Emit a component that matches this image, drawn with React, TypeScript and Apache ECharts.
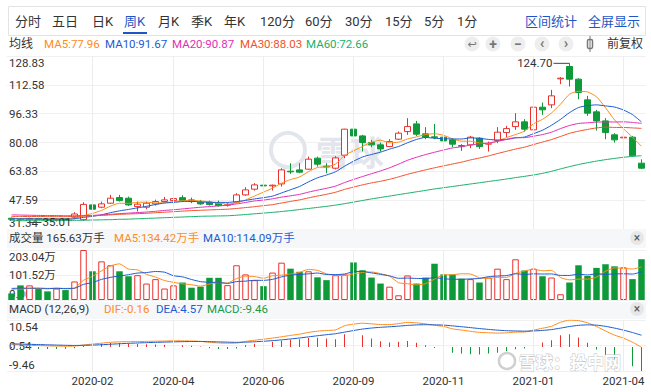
import React, { useEffect, useRef } from 'react';
import * as echarts from 'echarts';

// ---------- data ----------
const tickIdx = [9, 18, 28, 38, 48, 58, 68];
const tickText = ['2020-02', '2020-04', '2020-06', '2020-09', '2020-11', '2021-01', '2021-04'];

// [open, close, low, high]
const candles: number[][] = [
  [37.4, 36.8, 36.2, 37.8], [37.0, 36.6, 36.0, 37.5], [36.6, 37.3, 35.01, 37.7], [37.3, 36.9, 36.4, 37.6], [36.9, 36.5, 35.9, 37.2],
  [36.5, 37.0, 35.6, 37.3], [37.0, 36.6, 36.1, 37.4], [38.0, 39.8, 36.9, 40.8], [36.6, 45.2, 35.9, 46.4], [44.93, 42.5, 42.1, 46.22],
  [43.63, 45.49, 43.06, 46.8], [45.88, 48.7, 45.49, 50.56], [49.04, 47.35, 46.8, 50.56], [48.7, 44.93, 44.36, 49.6], [43.97, 45.32, 41.15, 46.8],
  [43.63, 45.88, 42.5, 46.8], [45.49, 46.8, 44.53, 47.9], [46.8, 47.74, 46.45, 49.43], [47.35, 48.48, 46.8, 49.6], [49.0, 47.35, 46.8, 50.4],
  [47.74, 46.8, 45.88, 49.04], [46.45, 45.49, 44.93, 47.74], [46.45, 45.1, 44.53, 47.35], [45.88, 44.53, 43.97, 47.35], [44.76, 44.93, 43.97, 46.22],
  [46.45, 50.56, 45.88, 51.52], [50.56, 53.38, 50.0, 54.9], [53.78, 56.2, 52.99, 57.16], [56.03, 55.64, 53.78, 56.59], [55.64, 56.03, 52.99, 56.37],
  [56.76, 64.65, 55.24, 65.61], [63.92, 63.53, 62.4, 68.43], [64.65, 63.36, 62.79, 68.43], [65.05, 70.69, 64.65, 72.15], [71.25, 67.87, 66.51, 72.15],
  [66.74, 66.34, 62.79, 68.43], [65.6, 71.4, 64.9, 72.4], [72.94, 87.6, 71.25, 87.8], [87.6, 83.8, 80.6, 89.45], [83.8, 80.05, 74.97, 84.4],
  [80.05, 78.75, 77.45, 81.57], [78.75, 76.49, 74.97, 80.05], [77.79, 80.6, 77.5, 81.96], [81.96, 85.34, 81.57, 86.25], [86.25, 89.06, 84.4, 93.8],
  [90.58, 84.78, 83.8, 92.27], [84.95, 83.08, 81.96, 88.72], [83.26, 82.86, 81.96, 90.58], [83.08, 81.0, 80.6, 84.4], [81.57, 79.14, 77.45, 82.52],
  [78.35, 78.0, 75.36, 79.14], [78.75, 83.08, 76.89, 83.8], [82.52, 77.79, 76.49, 83.08], [79.14, 79.48, 74.97, 80.6], [81.17, 85.9, 79.7, 88.72],
  [85.68, 87.93, 83.08, 89.45], [89.06, 91.71, 87.2, 96.6], [91.71, 87.6, 86.25, 93.23], [87.2, 99.99, 85.68, 101.3], [99.99, 98.48, 95.66, 102.6],
  [101.3, 106.37, 99.44, 109.75], [115.95, 116.34, 112.96, 116.9], [122.9, 115.78, 111.6, 124.7], [115.78, 108.23, 104.5, 116.34], [104.12, 96.62, 95.1, 106.37],
  [97.35, 92.27, 86.81, 98.48], [92.27, 85.68, 81.96, 93.8], [84.4, 81.57, 80.05, 85.34], [82.7, 83.08, 79.7, 85.34], [83.08, 72.55, 72.15, 83.8],
  [68.43, 65.61, 65.05, 70.6],
];

const ma5 = [
  37.0, 36.9, 36.9, 36.9, 36.82, 36.86, 36.86, 37.26, 38.92, 40.12,
  41.82, 44.24, 45.85, 45.8, 46.36, 46.44, 46.06, 46.13, 46.84, 47.25,
  47.43, 47.17, 46.64, 45.85, 45.37, 46.12, 47.7, 49.92, 52.14, 54.36,
  57.18, 59.21, 60.64, 63.65, 66.02, 66.36, 67.93, 72.78, 75.4, 77.84,
  80.32, 81.34, 79.94, 80.25, 82.05, 83.25, 84.57, 85.02, 84.16, 82.17,
  80.82, 80.82, 79.8, 79.5, 80.85, 82.84, 84.56, 86.52, 90.63, 93.14,
  96.75, 101.68, 107.31, 108.96, 108.59, 105.85, 99.72, 92.87, 87.84, 83.03,
  77.96,
];
const ma10 = [
  37.2, 37.1, 37.1, 37.0, 36.9, 36.9, 36.9, 37.1, 37.9, 38.47,
  39.34, 40.55, 41.56, 42.36, 43.24, 44.13, 45.15, 45.99, 46.32, 46.81,
  46.94, 46.61, 46.39, 46.35, 46.31, 46.78, 47.44, 48.28, 49.0, 49.87,
  51.65, 53.46, 55.28, 57.9, 60.19, 61.77, 63.57, 66.71, 69.53, 71.93,
  73.34, 74.64, 76.36, 77.82, 79.94, 81.79, 82.96, 82.48, 82.2, 82.11,
  82.04, 82.69, 82.41, 81.83, 81.51, 81.83, 82.69, 83.16, 85.06, 87.0,
  89.79, 93.12, 96.92, 99.79, 100.87, 101.3, 100.7, 100.09, 98.4, 95.81,
  91.67,
];
const ma20 = [
  39.3, 39.2, 39.1, 39.0, 38.9, 38.9, 38.8, 38.8, 38.9, 39.0,
  39.3, 39.6, 40.0, 40.3, 40.6, 40.9, 41.3, 41.8, 42.2, 42.64,
  43.14, 43.58, 43.97, 44.35, 44.78, 45.45, 46.29, 47.14, 47.66, 48.34,
  49.29, 50.03, 50.84, 52.12, 53.25, 54.27, 55.5, 57.5, 59.26, 60.9,
  62.5, 64.05, 65.82, 67.86, 70.07, 71.78, 73.26, 74.6, 75.86, 77.02,
  77.69, 78.66, 79.39, 79.83, 80.73, 81.81, 82.82, 82.82, 83.63, 84.55,
  85.91, 87.91, 89.67, 90.81, 91.19, 91.56, 91.69, 91.63, 91.73, 91.4,
  90.87,
];
const ma30 = [
  38.4, 38.4, 38.4, 38.4, 38.3, 38.3, 38.3, 38.4, 38.6, 38.8,
  39.0, 39.3, 39.6, 39.8, 40.0, 40.2, 40.5, 40.8, 41.1, 41.4,
  41.7, 41.9, 42.1, 42.3, 42.5, 42.9, 43.4, 43.9, 44.5, 45.05,
  45.98, 46.87, 47.74, 48.87, 49.91, 50.89, 52.05, 53.66, 54.95, 56.2,
  57.31, 58.23, 59.34, 60.69, 62.15, 63.44, 64.65, 65.82, 66.91, 67.97,
  69.01, 70.26, 71.35, 72.52, 73.88, 75.13, 76.4, 77.45, 78.93, 80.35,
  81.72, 83.48, 85.23, 86.48, 87.44, 88.3, 88.78, 88.58, 88.56, 88.31,
  88.03,
];
const ma60 = [
  36.0, 36.0, 36.0, 36.0, 36.1, 36.1, 36.1, 36.2, 36.3, 36.4,
  36.5, 36.6, 36.8, 36.9, 37.1, 37.3, 37.5, 37.7, 37.9, 38.1,
  38.3, 38.5, 38.6, 38.7, 38.8, 39.1, 39.5, 39.9, 40.3, 40.7,
  41.2, 41.7, 42.3, 42.9, 43.5, 44.1, 44.8, 45.6, 46.5, 47.4,
  48.3, 49.1, 49.9, 50.7, 51.5, 52.3, 53.1, 53.9, 54.6, 55.3,
  56.0, 56.7, 57.4, 58.1, 58.8, 59.5, 60.3, 61.0, 61.8, 62.7,
  63.85, 65.18, 66.49, 67.67, 68.68, 69.6, 70.42, 71.12, 71.75, 72.25,
  72.66,
];

// volume, 万手
const volumes = [
  26.5, 59.4, 59.4, 44.5, 35.0, 46.6, 40.3, 75.3, 203.04, 116.6,
  156.9, 141.0, 116.6, 96.5, 100.7, 66.8, 84.8, 46.6, 59.4, 71.0,
  49.8, 54.1, 90.1, 90.1, 60.4, 141.0, 103.9, 80.6, 56.2, 111.3,
  151.6, 127.2, 114.5, 116.6, 92.2, 80.6, 100.7, 103.9, 152.6, 120.8,
  91.2, 66.8, 54.1, 19.1, 99.6, 66.8, 91.2, 147.3, 103.9, 103.9,
  86.9, 84.8, 71.0, 91.2, 127.2, 84.8, 165.4, 119.8, 127.2, 96.5,
  91.2, 23.3, 71.0, 141.0, 97.5, 130.4, 145.2, 136.7, 132.5, 84.8,
  165.63,
];
const volMa5 = [
  43, 45, 47, 47, 45.0, 49.0, 45.2, 48.3, 80.0, 96.4,
  118.4, 138.6, 146.8, 125.5, 122.3, 104.3, 93.1, 79.1, 71.7, 65.7,
  62.3, 56.2, 64.9, 71.0, 68.9, 87.1, 97.1, 95.2, 88.4, 98.6,
  100.7, 105.4, 112.2, 124.2, 120.4, 106.2, 100.9, 98.8, 106.0, 111.7,
  113.8, 107.1, 97.1, 70.4, 66.2, 61.3, 66.2, 84.8, 101.8, 102.6,
  106.6, 105.4, 90.1, 87.6, 92.2, 91.8, 107.9, 117.7, 124.9, 118.7,
  120.0, 91.6, 81.8, 84.6, 84.8, 92.6, 117.0, 130.2, 128.5, 125.9,
  134.42,
];
const volMa10 = [
  47, 48, 48, 48, 47, 47, 47, 47.7, 63.5, 70.7,
  83.7, 91.9, 97.6, 102.8, 109.4, 111.4, 115.8, 113.0, 98.6, 94.0,
  83.3, 74.6, 72.0, 71.3, 67.3, 74.7, 76.6, 80.0, 79.7, 83.8,
  93.9, 101.2, 103.7, 106.3, 109.5, 103.5, 103.2, 105.5, 115.1, 116.1,
  110.0, 104.0, 98.0, 88.2, 88.9, 87.6, 86.6, 90.95, 86.1, 84.4,
  84.0, 85.8, 87.5, 94.7, 97.4, 99.2, 106.6, 103.9, 106.2, 105.5,
  105.9, 99.8, 99.8, 104.7, 101.8, 106.3, 104.3, 106.0, 106.5, 105.4,
  114.09,
];

const macdHist = [
  -0.4, -0.7, -0.8, -0.8, -0.8, -0.8, -0.7, -0.5, 0.3, 0.8,
  1.2, 1.5, 1.5, 1.3, 1.1, 1.0, 0.9, 0.8, 0.8, 0.6,
  0.4, 0.1, -0.5, -0.8, -0.8, -0.6, 0.6, 1.2, 1.6, 2.0,
  2.4, 2.8, 3.0, 3.5, 3.6, 3.3, 3.0, 5.0, 5.0, 4.6,
  3.3, 2.2, 1.7, 2.0, 2.35, 1.6, 0.65, -0.4, -1.0, -2.35,
  -2.6, -2.9, -3.0, -2.6, -2.35, -1.7, -0.9, -0.65, 0.65, 1.7,
  2.6, 4.6, 5.0, 3.7, 1.6, -1.0, -3.7, -5.5, -6.3, -7.6,
  -9.46,
];
const dea = [
  1.2, 1.11, 1.01, 0.91, 0.81, 0.71, 0.62, 0.56, 0.6, 0.7,
  0.85, 1.04, 1.23, 1.39, 1.53, 1.66, 1.77, 1.87, 1.97, 2.05,
  2.1, 2.11, 2.05, 1.95, 1.85, 1.78, 1.85, 2.0, 2.2, 2.45,
  2.75, 3.1, 3.48, 3.92, 4.37, 4.78, 5.16, 5.78, 6.41, 6.98,
  7.39, 7.67, 7.88, 8.13, 8.42, 8.62, 8.7, 8.65, 8.53, 8.24,
  7.91, 7.55, 7.18, 6.85, 6.56, 6.35, 6.24, 6.16, 6.24, 6.45,
  6.78, 7.35, 7.98, 8.44, 8.64, 8.52, 8.06, 7.37, 6.58, 5.63,
  4.57,
];
const dif = [
  1.0, 0.76, 0.61, 0.51, 0.41, 0.31, 0.27, 0.31, 0.75, 1.1,
  1.45, 1.79, 1.98, 2.04, 2.08, 2.16, 2.22, 2.27, 2.37, 2.35,
  2.3, 2.16, 1.8, 1.55, 1.45, 1.48, 2.15, 2.6, 3.0, 3.45,
  3.95, 4.5, 4.98, 5.67, 6.17, 6.43, 6.66, 8.28, 8.91, 9.28,
  9.04, 8.77, 8.73, 9.13, 9.6, 9.42, 9.03, 8.45, 8.03, 7.07,
  6.61, 6.1, 5.68, 5.55, 5.39, 5.5, 5.79, 5.84, 6.57, 7.3,
  8.08, 9.65, 10.48, 10.29, 9.44, 8.02, 6.21, 4.62, 3.43, 1.83,
  -0.16,
];

const priceTicks = ['31.34', '47.59', '63.83', '80.08', '96.33', '112.58', '128.83'];
const volTicks = ['0.00', '101.52万', '203.04万'];
const macdTicks = ['-9.46', '0.54', '10.54'];
const highIdx = 62;
const lowIdx = 2;

const tabs = ['分时', '五日', '日K', '周K', '月K', '季K', '年K', '120分', '60分', '30分', '15分', '5分', '1分'];
const tabX = [15, 52, 92, 124, 158, 191, 224, 260, 305, 345, 385, 424, 457];

// ---------- styles ----------
const RED = '#e8322f';
const GREEN = '#0f9a3a';
const C5 = '#ff8c1a';
const C10 = '#1b5bd3';
const C20 = '#e22fb5';
const C30 = '#f2512c';
const C60 = '#18b06a';
const BLUE = '#1f56c6';
const FF = 'Roboto, "Noto Sans CJK SC", sans-serif';
const FS = 11.5;

function txt(text: string, x: number, y: number, fill: string, size = FS, extra: any = {}) {
  return {
    type: 'text',
    z: 60,
    style: {
      text, x, y, fill,
      font: `${extra.weight || 'normal'} ${size}px ${extra.family || FF}`,
      align: extra.align || 'left', textAlign: extra.align || 'left',
      verticalAlign: 'middle', textVerticalAlign: 'middle',
      stroke: extra.stroke, lineWidth: extra.lineWidth,
    },
    silent: true,
  };
}

export default function App() {
  const ref = useRef<HTMLDivElement>(null);
  useEffect(() => {
    if (!ref.current) return;
    const chart = echarts.init(ref.current, undefined, { renderer: 'svg' });
    const cats = candles.map((_, i) => {
      const k = tickIdx.indexOf(i);
      return k >= 0 ? tickText[k] : String(i);
    });
    const grids = [
      { left: 7, right: 5, top: 56, height: 173 },
      { left: 7, right: 5, top: 250, height: 50 },
      { left: 7, right: 5, top: 320, height: 51 },
    ];
    const xBase = (gi: number) => ({
      type: 'category', gridIndex: gi, data: cats, boundaryGap: true,
      axisLine: { show: false }, axisTick: { show: false }, splitLine: { show: false },
      axisLabel: { show: false },
    });
    const labelAxis = (gi: number, labels: string[]) => ({
      type: 'value', gridIndex: gi, min: 0, max: labels.length - 1, interval: 1, position: 'left',
      axisLine: { show: false }, axisTick: { show: false },
      splitLine: { show: true, lineStyle: { color: '#f0f0f0', width: 1 } },
      axisLabel: {
        inside: true, margin: 2, color: '#333', fontSize: FS, fontFamily: FF,
        formatter: (v: number) => {
          const k = Math.round(v);
          const s = labels[k];
          if (k === labels.length - 1) return `{t|${s}}`;
          if (k === 0) return `{b|${s}}`;
          return s;
        },
        rich: {
          t: { padding: [13, 0, 0, 0], fontSize: FS, color: '#333', fontFamily: FF },
          b: { padding: [0, 0, 13, 0], fontSize: FS, color: '#333', fontFamily: FF },
        },
      },
    });
    const hidden = (gi: number, min: number, max: number) => ({
      type: 'value', gridIndex: gi, min, max, show: false,
      splitLine: { show: false }, axisLabel: { show: false },
    });
    const vLines = (xi: number, yi: number) => ({
      type: 'line', xAxisIndex: xi, yAxisIndex: yi, data: [], z: 1, silent: true,
      markLine: {
        silent: true, symbol: 'none', label: { show: false },
        lineStyle: { color: '#ececec', type: 'solid', width: 1 },
        data: tickIdx.map((i) => ({ xAxis: i })),
      },
    });
    const maLine = (data: number[], color: string, xi: number, yi: number) => ({
      type: 'line', data, xAxisIndex: xi, yAxisIndex: yi, showSymbol: false, symbol: 'none',
      smooth: 0.2, lineStyle: { color, width: 1 }, z: 4, silent: true,
    });

    const volData = volumes.map((v, i) => {
      const up = candles[i][1] >= candles[i][0];
      return { value: v, itemStyle: up ? { color: '#ffffff', borderColor: RED, borderWidth: 1 } : { color: GREEN } };
    });
    const histData = macdHist.map((v) => ({ value: v, itemStyle: { color: v >= 0 ? RED : GREEN } }));

    const last = (a: number[]) => a[a.length - 1].toFixed(2);
    const CJK = '"Noto Sans CJK SC", sans-serif';

    const graphic: any[] = [
      // toolbar
      { type: 'rect', z: 60, shape: { x: 8.5, y: 6.5, width: 637, height: 29 }, style: { fill: 'none', stroke: '#e3e3e3', lineWidth: 1 }, silent: true },
      ...tabs.map((t, i) => txt(t, tabX[i], 21, i === 3 ? BLUE : '#333', 13)),
      { type: 'rect', z: 60, shape: { x: 123, y: 32, width: 24, height: 2 }, style: { fill: BLUE }, silent: true },
      txt('区间统计', 525, 21, BLUE, 13),
      txt('全屏显示', 588, 21, BLUE, 13),
      // MA header
      txt('均线', 9, 44, '#333', 12),
      txt(`MA5:${last(ma5)}`, 44, 44, C5),
      txt(`MA10:${last(ma10)}`, 105, 44, C10),
      txt(`MA20:${last(ma20)}`, 172, 44, C20),
      txt(`MA30:${last(ma30)}`, 240, 44, C30),
      txt(`MA60:${last(ma60)}`, 306, 44, C60),
      ...[472, 493, 518, 542, 566].map((cx) => ({ type: 'circle', z: 60, shape: { cx, cy: 44, r: 7.5 }, style: { fill: '#eeeeee' }, silent: true })),
      txt('↩', 472, 44, '#777', 11, { align: 'center', family: '"DejaVu Sans", sans-serif' }),
      txt('+', 493, 44, '#777', 14, { align: 'center', weight: 'bold' }),
      txt('−', 518, 44, '#777', 14, { align: 'center', weight: 'bold' }),
      txt('‹', 542, 43, '#777', 15, { align: 'center', weight: 'bold' }),
      txt('›', 566, 43, '#777', 15, { align: 'center', weight: 'bold' }),
      { type: 'rect', z: 60, shape: { x: 587.5, y: 39.5, width: 5, height: 9, r: 1.5 }, style: { fill: 'none', stroke: '#777', lineWidth: 1.5 }, silent: true },
      { type: 'line', z: 60, shape: { x1: 590, y1: 36, x2: 590, y2: 52 }, style: { stroke: '#777', lineWidth: 1 }, silent: true },
      txt('前复权', 607, 44, '#333', 12),
      // volume header band
      { type: 'rect', z: 50, shape: { x: 7, y: 229, width: 639, height: 19 }, style: { fill: '#f6f7f9' }, silent: true },
      txt(`成交量 ${last(volumes)}万手`, 9, 238, '#333'),
      txt(`MA5:${last(volMa5)}万手`, 114, 238, C5),
      txt(`MA10:${last(volMa10)}万手`, 203, 238, C10),
      { type: 'circle', z: 60, shape: { cx: 637, cy: 238, r: 7 }, style: { fill: '#e6e7e9' }, silent: true },
      txt('×', 637, 238, '#555', 12, { align: 'center' }),
      // MACD header band
      { type: 'rect', z: 50, shape: { x: 7, y: 302, width: 639, height: 17 }, style: { fill: '#f6f7f9' }, silent: true },
      txt('MACD (12,26,9)', 9, 309, '#333'),
      txt(`DIF:${last(dif)}`, 104, 309, C5),
      txt(`DEA:${last(dea)}`, 156, 309, C10),
      txt(`MACD:${last(macdHist)}`, 207, 309, '#1a9a44'),
      { type: 'circle', z: 60, shape: { cx: 637, cy: 309, r: 7 }, style: { fill: '#e6e7e9' }, silent: true },
      txt('×', 637, 309, '#555', 12, { align: 'center' }),
      // watermarks
      { type: 'circle', z: 1, shape: { cx: 288, cy: 150, r: 17 }, style: { fill: 'none', stroke: '#e2e6ec', lineWidth: 4 }, silent: true },
      { type: 'text', z: 1, silent: true, style: { text: '雪球', x: 316, y: 151, fill: '#e2e6ec', font: `bold 34px ${CJK}`, verticalAlign: 'middle', textVerticalAlign: 'middle' } },
      { type: 'circle', z: 60, shape: { cx: 507, cy: 361, r: 8 }, style: { fill: 'none', stroke: '#d0d0d0', lineWidth: 2.5 }, silent: true },
      { type: 'text', z: 60, silent: true, style: { text: '雪球：投中网', x: 519, y: 361, fill: '#ffffff', stroke: '#c4c4c4', lineWidth: 1, font: `bold 17px ${CJK}`, verticalAlign: 'middle', textVerticalAlign: 'middle' } },
    ];

    chart.setOption({
      animation: false,
      backgroundColor: '#ffffff',
      grid: grids,
      xAxis: [
        xBase(0),
        xBase(1),
        {
          ...xBase(2),
          axisLabel: {
            show: true, interval: (idx: number) => tickIdx.includes(idx),
            formatter: (v: string) => v, color: '#333', fontSize: FS, fontFamily: FF, margin: 4,
          },
        },
      ],
      yAxis: [
        hidden(0, Number(priceTicks[0]), Number(priceTicks[priceTicks.length - 1])),
        labelAxis(0, priceTicks),
        hidden(1, 0, 203.04),
        labelAxis(1, volTicks),
        hidden(2, -9.46, 10.54),
        labelAxis(2, macdTicks),
      ],
      graphic,
      series: [
        vLines(0, 0),
        vLines(1, 2),
        vLines(2, 4),
        {
          type: 'candlestick', xAxisIndex: 0, yAxisIndex: 0, data: candles, barWidth: 6.5, z: 3, silent: true,
          itemStyle: { color: '#ffffff', color0: GREEN, borderColor: RED, borderColor0: GREEN, borderWidth: 1 },
          markPoint: {
            silent: true, symbol: 'rect',
            itemStyle: { color: '#444' },
            data: [
              {
                coord: [highIdx, candles[highIdx][3]], symbolSize: [16, 1], symbolOffset: [-8, 0],
                label: { show: true, position: 'left', distance: 1, formatter: candles[highIdx][3].toFixed(2), color: '#333', fontSize: FS, fontFamily: FF },
              },
              {
                coord: [lowIdx, candles[lowIdx][2]], symbolSize: [12, 1], symbolOffset: [6, 0],
                label: { show: true, position: 'right', distance: 1, formatter: candles[lowIdx][2].toFixed(2), color: '#333', fontSize: FS, fontFamily: FF },
              },
            ],
          },
        },
        maLine(ma5, C5, 0, 0),
        maLine(ma10, C10, 0, 0),
        maLine(ma20, C20, 0, 0),
        maLine(ma30, C30, 0, 0),
        maLine(ma60, C60, 0, 0),
        { type: 'bar', xAxisIndex: 1, yAxisIndex: 2, data: volData, barWidth: 6.5, z: 3, silent: true },
        maLine(volMa5, C5, 1, 2),
        maLine(volMa10, C10, 1, 2),
        { type: 'bar', xAxisIndex: 2, yAxisIndex: 4, data: histData, barWidth: 1, z: 3, silent: true },
        maLine(dif, C5, 2, 4),
        maLine(dea, C10, 2, 4),
      ],
    });
    return () => chart.dispose();
  }, []);
  return <div ref={ref} style={{ position: 'fixed', left: 0, top: 0, width: 651, height: 392 }} />;
}
